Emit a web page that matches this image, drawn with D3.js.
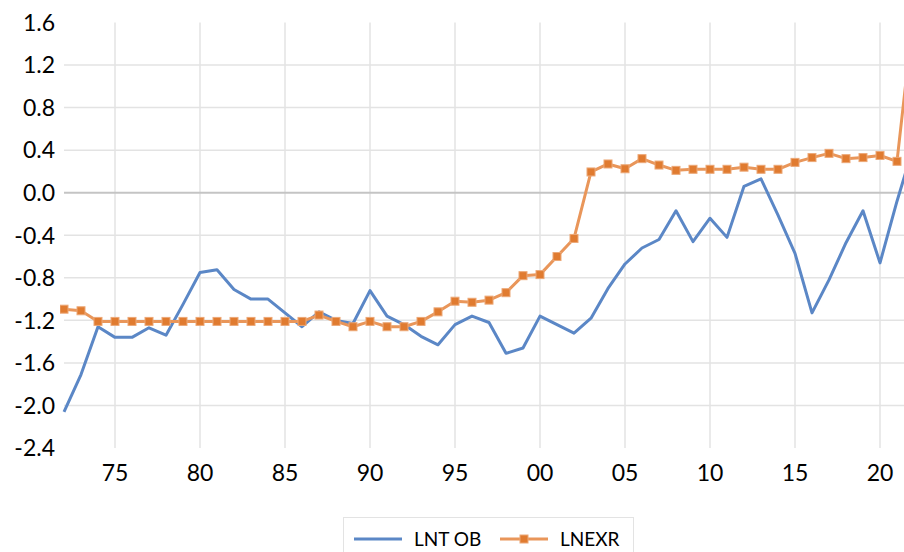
<!DOCTYPE html>
<html><head><meta charset="utf-8">
<script src="https://cdn.jsdelivr.net/npm/d3@7"></script>
<style>body{margin:0;background:#fff}svg{display:block}text{font-family:Lato,"Open Sans",sans-serif;fill:#000}</style>
</head><body><svg id="c" width="904" height="552"></svg>
<script>
const years = d3.range(1972, 2023);
const lntob = [-2.06,-1.71,-1.26,-1.36,-1.36,-1.27,-1.34,-1.05,-0.75,-0.725,
  -0.91,-1.00,-1.00,-1.13,-1.26,-1.12,-1.20,-1.23,-0.92,-1.16,
  -1.24,-1.35,-1.43,-1.24,-1.16,-1.22,-1.51,-1.46,-1.16,-1.24,
  -1.32,-1.18,-0.90,-0.67,-0.52,-0.44,-0.17,-0.46,-0.24,-0.42,
  0.06,0.13,-0.21,-0.57,-1.13,-0.82,-0.47,-0.17,-0.66,-0.08,0.45];
const lnexr = [-1.095,-1.11,-1.21,-1.21,-1.21,-1.21,-1.21,-1.21,-1.21,-1.21,
  -1.21,-1.21,-1.21,-1.21,-1.21,-1.15,-1.21,-1.26,-1.21,-1.26,
  -1.26,-1.21,-1.12,-1.02,-1.03,-1.01,-0.94,-0.78,-0.77,-0.60,
  -0.43,0.195,0.27,0.225,0.32,0.26,0.21,0.22,0.22,0.22,
  0.24,0.22,0.22,0.285,0.33,0.37,0.32,0.33,0.35,0.295,1.72];
const yTicks = [1.6,1.2,0.8,0.4,0.0,-0.4,-0.8,-1.2,-1.6,-2.0,-2.4];
const xTicks = [1975,1980,1985,1990,1995,2000,2005,2010,2015,2020];
const seriesNames = ["LNT OB","LNEXR"];

const svg = d3.select("#c");
const x = d3.scaleLinear().domain([1972,2022]).range([64,914]);
const y = d3.scaleLinear().domain([-2.4,1.6]).range([448,22.5]);

svg.append("defs").append("clipPath").attr("id","pc").append("rect")
  .attr("x",60).attr("y",22.5).attr("width",860).attr("height",430);

// gridlines
svg.append("g").selectAll("line").data(yTicks.filter(v=>v!==1.6 && v!==-2.4 && v!==0))
  .join("line").attr("x1",64).attr("x2",904).attr("y1",d=>y(d)).attr("y2",d=>y(d))
  .attr("stroke","#e3e3e3").attr("stroke-width",1.5);
svg.append("g").selectAll("line").data(xTicks)
  .join("line").attr("x1",d=>x(d)).attr("x2",d=>x(d)).attr("y1",y(1.6)).attr("y2",y(-2.4))
  .attr("stroke","#e3e3e3").attr("stroke-width",1.5);
svg.append("line").attr("x1",64).attr("x2",904).attr("y1",y(0)).attr("y2",y(0))
  .attr("stroke","#c4c4c4").attr("stroke-width",2);

// y labels
svg.append("g").selectAll("text").data(yTicks).join("text")
  .attr("x",55).attr("y",d=>y(d)).attr("dy","0.36em").attr("text-anchor","end")
  .attr("font-size",23).text(d=>d3.format(".1f")(d).replace("−","-"));
// x labels
svg.append("g").selectAll("text").data(xTicks).join("text")
  .attr("x",d=>x(d)).attr("y",481).attr("text-anchor","middle")
  .attr("font-size",23).text(d=>String(d%100).padStart(2,"0"));

const g = svg.append("g").attr("clip-path","url(#pc)");
const line = d3.line().x((d,i)=>x(years[i])).y(d=>y(d));
g.append("path").datum(lntob).attr("d",line).attr("fill","none")
  .attr("stroke","#5b87c6").attr("stroke-width",3).attr("stroke-linejoin","round");
g.append("path").datum(lnexr).attr("d",line).attr("fill","none")
  .attr("stroke","#e9965a").attr("stroke-width",3).attr("stroke-linejoin","round");
g.selectAll("rect.m").data(lnexr).join("rect").attr("class","m")
  .attr("x",(d,i)=>x(years[i])-4).attr("y",d=>y(d)-4).attr("width",8).attr("height",8)
  .attr("fill","#e07b30").attr("stroke","#eca877").attr("stroke-width",1);

// legend
const lg = svg.append("g");
lg.append("rect").attr("x",343.5).attr("y",517.5).attr("width",290).attr("height",50)
  .attr("fill","#fff").attr("stroke","#e3e3e3").attr("stroke-width",1);
lg.append("line").attr("x1",354).attr("x2",402).attr("y1",539).attr("y2",539)
  .attr("stroke","#5b87c6").attr("stroke-width",3);
lg.append("text").attr("x",414).attr("y",539).attr("dy","0.36em").attr("font-size",19).text(seriesNames[0]);
lg.append("line").attr("x1",500).attr("x2",548).attr("y1",539).attr("y2",539)
  .attr("stroke","#e9965a").attr("stroke-width",3);
lg.append("rect").attr("x",520).attr("y",535).attr("width",8).attr("height",8)
  .attr("fill","#e07b30").attr("stroke","#eca877");
lg.append("text").attr("x",560).attr("y",539).attr("dy","0.36em").attr("font-size",19).text(seriesNames[1]);
</script></body></html>
